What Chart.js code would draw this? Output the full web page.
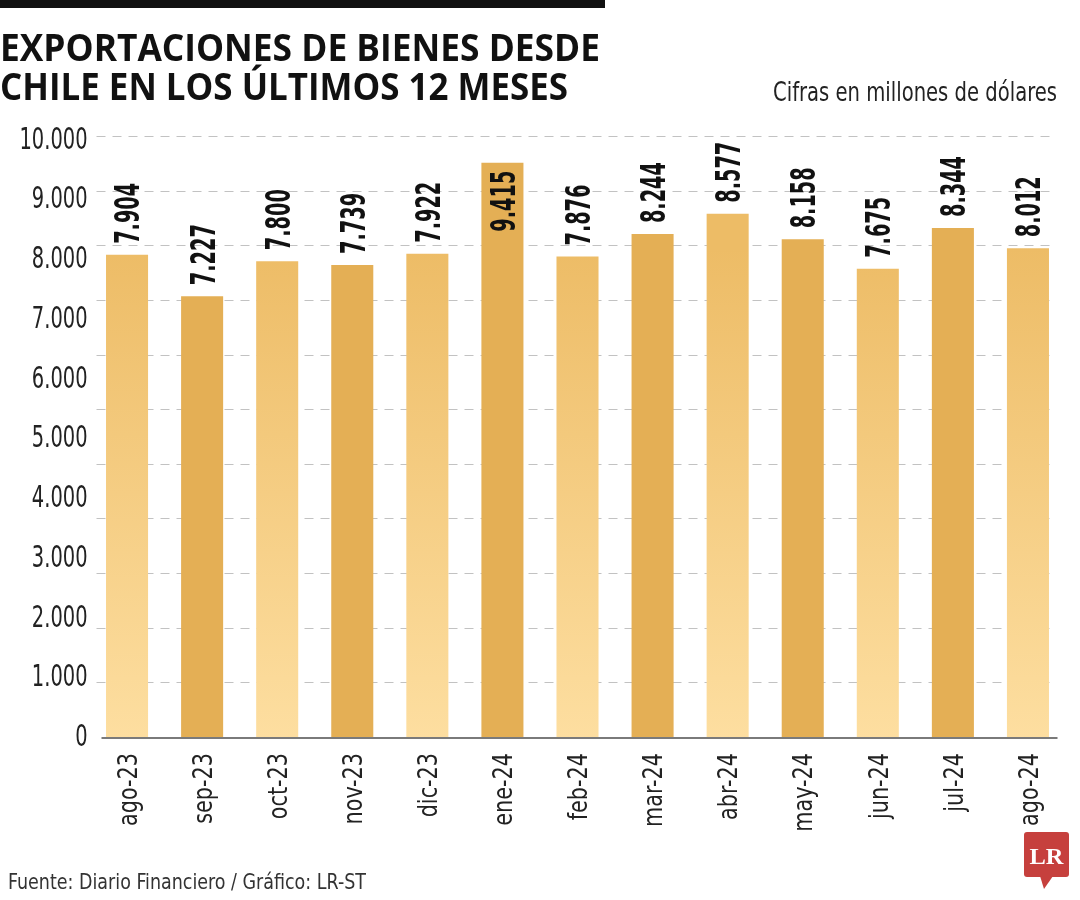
<!DOCTYPE html>
<html>
<head>
<meta charset="utf-8">
<script src="https://cdn.jsdelivr.net/npm/chart.js@4.4.1/dist/chart.umd.min.js"></script>
<style>
html,body{margin:0;padding:0;background:#fff;width:1080px;height:900px;overflow:hidden}
#wrap{position:relative;width:1080px;height:900px}
#c{position:absolute;left:0;top:0}
#ov{position:absolute;left:0;top:0;pointer-events:none}
</style>
</head>
<body>
<div id="wrap">
<canvas id="c" width="1080" height="900"></canvas>
<svg id="ov" width="1080" height="900" xmlns="http://www.w3.org/2000/svg">
  <rect x="0" y="0" width="605" height="8" fill="#111"/>
  <text x="0" y="61" font-family="'Open Sans', 'Liberation Sans', sans-serif" font-weight="700" font-size="37" fill="#111" textLength="600" lengthAdjust="spacingAndGlyphs">EXPORTACIONES DE BIENES DESDE</text>
  <text x="0" y="100" font-family="'Open Sans', 'Liberation Sans', sans-serif" font-weight="700" font-size="37" fill="#111" textLength="568" lengthAdjust="spacingAndGlyphs">CHILE EN LOS ÚLTIMOS 12 MESES</text>
  <text x="773" y="101" font-family="'DejaVu Sans Condensed', 'Liberation Sans', sans-serif" font-size="27" fill="#222" textLength="284" lengthAdjust="spacingAndGlyphs">Cifras en millones de dólares</text>
  <text x="8" y="889" font-family="'DejaVu Sans Condensed', 'Liberation Sans', sans-serif" font-size="22" fill="#333" textLength="358" lengthAdjust="spacingAndGlyphs">Fuente: Diario Financiero / Gráfico: LR-ST</text>
  <rect x="1024" y="832" width="45" height="45" rx="3" fill="#C6403D"/>
  <polygon points="1040,876 1053,876 1044,889" fill="#C6403D"/>
  <text x="1046.5" y="864" text-anchor="middle" font-family="'Liberation Serif', 'DejaVu Serif', serif" font-weight="700" font-size="24" fill="#fff" textLength="34" lengthAdjust="spacingAndGlyphs">LR</text>
</svg>
</div>
<script>
// ---- data ----
const categories = ['ago-23','sep-23','oct-23','nov-23','dic-23','ene-24','feb-24','mar-24','abr-24','may-24','jun-24','jul-24','ago-24'];
const exportValues = [7904,7227,7800,7739,7922,9415,7876,8244,8577,8158,7675,8344,8012];
const yTickValues = [0,1000,2000,3000,4000,5000,6000,7000,8000,9000,10000];
const gridSteps = [1,2,3,4,5,6,7,8,9,10,11];

const FONT = "'DejaVu Sans Condensed', 'Liberation Sans', sans-serif";
const fmt = v => String(v).replace(/\B(?=(\d{3})+(?!\d))/g, '.');

const drawPlugin = {
  id: 'customDraw',
  beforeDatasetsDraw(chart) {
    const ctx = chart.ctx, ca = chart.chartArea, g = chart.scales.yGrid;
    ctx.save();
    ctx.strokeStyle = '#c2c2c2';
    ctx.lineWidth = 1;
    ctx.setLineDash([9, 7]);
    for (const s of gridSteps) {
      const y = Math.round(g.getPixelForValue(s)) + 0.5;
      ctx.beginPath();
      ctx.moveTo(ca.left + 7, y);
      ctx.lineTo(ca.right - 13, y);
      ctx.stroke();
    }
    ctx.restore();
  },
  afterDatasetsDraw(chart) {
    const ctx = chart.ctx, ca = chart.chartArea, ys = chart.scales.y;
    const base = ys.getPixelForValue(0);
    ctx.save();
    // baseline axis
    ctx.strokeStyle = '#7a7a7a';
    ctx.lineWidth = 2;
    ctx.beginPath();
    ctx.moveTo(ca.left + 12, base + 1);
    ctx.lineTo(ca.right - 8, base + 1);
    ctx.stroke();

    // y tick labels (condensed)
    const yl = chart.scales.yLab;
    let fs = 30;
    ctx.font = fs + 'px ' + FONT;
    ctx.fillStyle = '#222';
    let sx = 68 / ctx.measureText('10.000').width;
    ctx.textAlign = 'right';
    ctx.textBaseline = 'alphabetic';
    yl.ticks.forEach(t => {
      const y = yl.getPixelForValue(t.value);
      ctx.save();
      ctx.translate(ca.left - 2, y);
      ctx.scale(sx, 1);
      ctx.fillText(fmt(t.value), 0, fs * 0.73 / 2);
      ctx.restore();
    });

    // x tick labels (rotated, condensed)
    const xs = chart.scales.x;
    fs = 27;
    ctx.font = fs + 'px ' + FONT;
    sx = 73 / ctx.measureText('ago-24').width;
    categories.forEach((lab, i) => {
      const x = xs.getPixelForTick(i);
      ctx.save();
      ctx.translate(x, ca.bottom + 16);
      ctx.rotate(-Math.PI / 2);
      ctx.scale(sx, 1);
      ctx.textAlign = 'right';
      ctx.fillText(lab, 0, fs * 0.36);
      ctx.restore();
    });

    // value labels, rotated
    const meta = chart.getDatasetMeta(0);
    fs = 34;
    ctx.font = 'bold ' + fs + 'px ' + FONT;
    ctx.fillStyle = '#111';
    sx = 61 / ctx.measureText('7.904').width;
    const capH = fs * 0.73, gap = 11;
    meta.data.forEach((bar, i) => {
      const txt = fmt(exportValues[i]);
      const len = ctx.measureText(txt).width * sx;
      const top = bar.y;
      const inside = (top - gap - len) < ca.top;
      ctx.save();
      ctx.translate(bar.x, inside ? top + 8 : top - gap);
      ctx.rotate(-Math.PI / 2);
      ctx.scale(sx, 1);
      ctx.textAlign = inside ? 'right' : 'left';
      ctx.fillText(txt, 0, capH / 2);
      ctx.restore();
    });
    ctx.restore();
  }
};

new Chart(document.getElementById('c'), {
  type: 'bar',
  data: {
    labels: categories,
    datasets: [{
      data: exportValues,
      yAxisID: 'y',
      borderWidth: 0,
      categoryPercentage: 1,
      barPercentage: 0.56,
      backgroundColor: (c) => {
        if (c.dataIndex % 2 === 1) return '#E4AF55';
        const chart = c.chart;
        if (!chart.chartArea) return '#F4CD85';
        const ys = chart.scales.y;
        const g = chart.ctx.createLinearGradient(0, ys.getPixelForValue(0), 0, ys.getPixelForValue(8000));
        g.addColorStop(0, '#FDDEA0');
        g.addColorStop(1, '#EDBC66');
        return g;
      }
    }]
  },
  options: {
    responsive: false,
    animation: false,
    devicePixelRatio: 1,
    layout: { padding: { top: 136, bottom: 63, left: 0, right: 14.5 } },
    plugins: { legend: { display: false }, tooltip: { enabled: false } },
    scales: {
      x: {
        type: 'category',
        offset: true,
        grid: { display: false, drawTicks: false },
        border: { display: false },
        ticks: { display: false, autoSkip: false },
        afterFit(s) { s.height = 100; }
      },
      y: { display: false, min: 0, max: 9852 },
      yGrid: { type: 'linear', display: false, min: 0, max: 11 },
      yLab: {
        type: 'linear',
        position: 'left',
        min: -33, max: 10028,
        grid: { display: false, drawTicks: false },
        border: { display: false },
        afterBuildTicks(s) { s.ticks = yTickValues.map(v => ({ value: v })); },
        ticks: { display: false },
        afterFit(s) { s.width = 89.5; }
      }
    }
  },
  plugins: [drawPlugin]
});
</script>
</body>
</html>
